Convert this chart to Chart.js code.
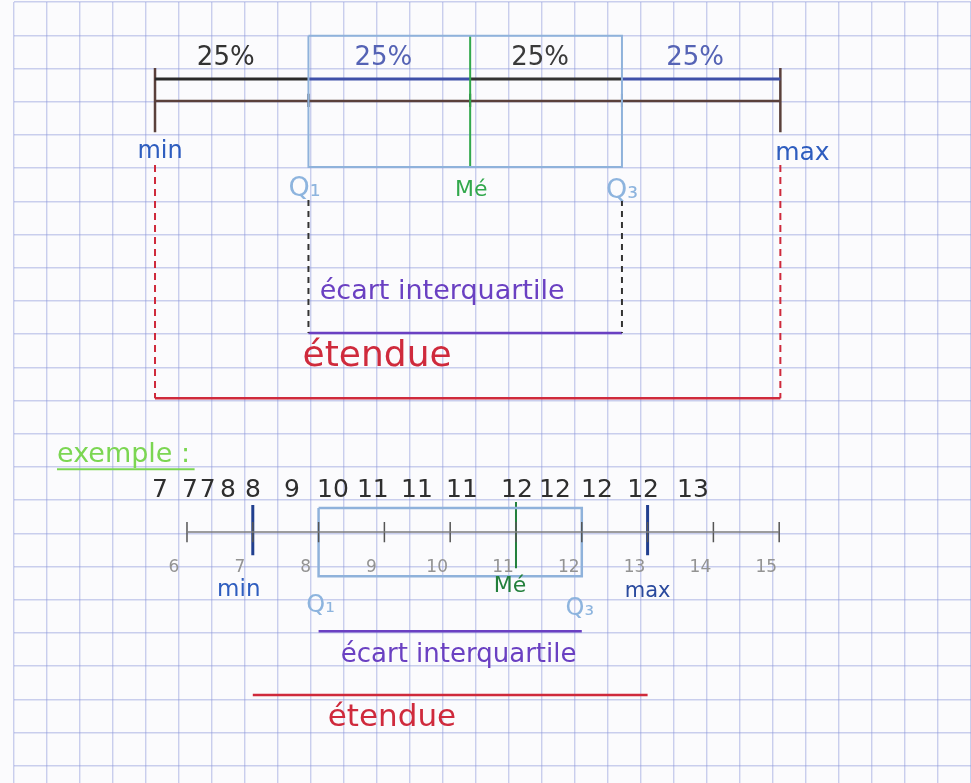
<!DOCTYPE html>
<html lang="fr">
<head>
<meta charset="utf-8">
<title>Diagramme en boîte</title>
<script src="https://cdn.jsdelivr.net/npm/chart.js@4.4.1/dist/chart.umd.min.js"></script>
<style>
  html, body { margin: 0; padding: 0; background: #fbfbfd; }
  #wrap { width: 971px; height: 783px; position: relative; }
</style>
</head>
<body>
<div id="wrap"><canvas id="boxplot"></canvas></div>
<script>
// --- schéma général (positions des repères sur la droite, en carreaux) ---
const schemaNames = ['min', 'Q₁', 'Mé', 'Q₃', 'max'];
const schemaPos = [4.0, 8.65, 13.55, 18.15, 22.95];
const schemaShares = ['25%', '25%', '25%', '25%'];

// --- exemple ---
const serie = [7, 7, 7, 8, 8, 9, 10, 11, 11, 11, 12, 12, 12, 12, 13];
const axisTicks = [6, 7, 8, 9, 10, 11, 12, 13, 14, 15];
const exNames = ['min', 'Q₁', 'Mé', 'Q₃', 'max'];
const exValues = [7, 8, 11, 12, 13];

// layout (carreaux / pixels), kept apart from the values
const serieX = [4.15, 5.06, 5.6, 6.21, 6.97, 8.15, 9.39, 10.6, 11.94, 13.3, 14.97, 16.12, 17.39, 18.79, 20.3];
const FONT = "'DejaVu Sans', 'Noto Sans', sans-serif";

(function() {
  const c = {
    ink: '#2a2a2a',
    blue: '#3f50a8',
    brown: '#5a403b',
    box: '#8fb2db',
    green: '#32a84c',
    darkGreen: '#23803c',
    purple: '#6a40c2',
    red: '#cf2a3c',
    gray: '#7d7d7d',
    navy: '#213f8f',
    label: '#2e5dbf',
    light: '#8db4de',
    lime: '#7bd652'
  };

  const datasets = [];
  function addLine(axis, pts, color, width, dash) {
    datasets.push({
      data: pts,
      xAxisID: axis,
      showLine: true,
      borderColor: color,
      borderWidth: width,
      borderDash: dash || [],
      pointRadius: 0,
      fill: false
    });
  }
  const h = (x0, x1, y) => [{ x: x0, y: y }, { x: x1, y: y }];
  const v = (x, y0, y1) => [{ x: x, y: y0 }, { x: x, y: y1 }];
  const [p0, p1, p2, p3, p4] = schemaPos;

  // top diagram
  addLine('x', [{ x: p1, y: 1.02 }, { x: p3, y: 1.02 }, { x: p3, y: 4.97 }, { x: p1, y: 4.97 }, { x: p1, y: 1.02 }], c.box, 2);
  addLine('x', v(p2, 1.02, 4.97), c.green, 2);
  const segColors = [c.ink, c.blue, '#333333', c.blue];
  for (let i = 0; i < 4; i++) {
    addLine('x', h(schemaPos[i], schemaPos[i + 1], 2.32), segColors[i], 3);
  }
  addLine('x', h(p0, p4, 2.98), c.brown, 2.5);
  addLine('x', v(p0, 1.99, 3.92), c.brown, 2.5);
  addLine('x', v(p4, 1.99, 3.92), c.brown, 2.5);
  [p1, p2, p3].forEach(p => addLine('x', v(p, 2.76, 3.16), '#222', 2));
  addLine('x', v(p1, 5.96, 9.97), '#333', 2, [6, 5]);
  addLine('x', v(p3, 5.96, 9.97), '#333', 2, [6, 5]);
  addLine('x', h(p1, p3, 9.97), c.purple, 2.5);
  addLine('x', v(p0, 4.91, 11.93), c.red, 2, [7, 5]);
  addLine('x', v(p4, 4.91, 11.93), c.red, 2, [7, 5]);
  addLine('x', h(p0, p4, 11.93), c.red, 2.5);

  // example
  addLine('x', h(1.03, 5.2, 14.07), c.lime, 2);
  addLine('xv', h(axisTicks[0], axisTicks[axisTicks.length - 1], 15.96), c.gray, 1.5);
  axisTicks.forEach(t => addLine('xv', v(t, 15.66, 16.27), '#555', 1.5));
  const [emin, eq1, eme, eq3, emax] = exValues;
  addLine('xv', [{ x: eq1, y: 15.24 }, { x: eq3, y: 15.24 }, { x: eq3, y: 17.29 }, { x: eq1, y: 17.29 }, { x: eq1, y: 15.24 }], c.box, 2.5);
  addLine('xv', v(emin, 15.15, 16.66), c.navy, 3);
  addLine('xv', v(emax, 15.15, 16.66), c.navy, 3);
  addLine('xv', v(eme, 15.06, 17.05), c.darkGreen, 2);
  addLine('xv', h(eq1, eq3, 18.95), c.purple, 2.5);
  addLine('xv', h(emin, emax, 20.87), c.red, 2.5);

  // texts
  const notes = [];
  const shareColors = ['#333', '#5563b5', '#3a3a3a', '#5563b5'];
  schemaShares.forEach((s, i) => notes.push({
    t: s, axis: 'x', x: (schemaPos[i] + schemaPos[i + 1]) / 2, dx: -6, y: 1.69, color: shareColors[i], size: 26
  }));
  const nameDx = [5, -4, 1, 0, 22];
  const nameY = [4.52, 5.62, 5.66, 5.7, 4.55];
  const nameColors = [c.label, c.light, c.green, c.light, c.label];
  const nameSize = [24, 27, 22, 27, 25];
  schemaNames.forEach((s, i) => notes.push({
    t: s, axis: 'x', x: schemaPos[i], dx: nameDx[i], y: nameY[i], color: nameColors[i], size: nameSize[i]
  }));
  notes.push({ t: 'écart interquartile', axis: 'x', x: 12.7, y: 8.73, color: c.purple, size: 27 });
  notes.push({ t: 'étendue', axis: 'x', x: 10.73, y: 10.69, color: c.red, size: 36 });

  notes.push({ t: 'exemple :', axis: 'x', x: 1.03, y: 13.64, color: c.lime, size: 27, align: 'left' });
  serie.forEach((s, i) => notes.push({ t: String(s), axis: 'x', x: serieX[i], y: 14.7, color: '#2e2e2e', size: 25 }));
  axisTicks.forEach(t => notes.push({ t: String(t), axis: 'xv', x: t, dx: -13, y: 17.02, color: '#939393', size: 17 }));
  const exDx = [-14, 2, -6, -2, 0];
  const exY = [17.71, 18.18, 17.6, 18.28, 17.74];
  const exColors = [c.label, c.light, c.darkGreen, c.light, '#2a4a9e'];
  const exSize = [23, 24, 22, 24, 21];
  exNames.forEach((s, i) => notes.push({
    t: s, axis: 'xv', x: exValues[i], dx: exDx[i], y: exY[i], color: exColors[i], size: exSize[i]
  }));
  notes.push({ t: 'écart interquartile', axis: 'x', x: 13.2, y: 19.67, color: c.purple, size: 26 });
  notes.push({ t: 'étendue', axis: 'x', x: 11.18, y: 21.57, color: c.red, size: 31 });

  const handText = {
    id: 'handText',
    afterDatasetsDraw(chart) {
      const { ctx, scales } = chart;
      ctx.save();
      ctx.textBaseline = 'middle';
      notes.forEach(n => {
        ctx.font = n.size + 'px ' + FONT;
        ctx.fillStyle = n.color;
        ctx.textAlign = n.align || 'center';
        const px = scales[n.axis].getPixelForValue(n.x) + (n.dx || 0);
        ctx.fillText(n.t, px, scales.y.getPixelForValue(n.y));
      });
      ctx.restore();
    }
  };

  const paperGrid = { color: 'rgba(140, 150, 218, 0.45)', lineWidth: 1.4, drawTicks: false };

  new Chart(document.getElementById('boxplot'), {
    type: 'scatter',
    data: { datasets: datasets },
    options: {
      responsive: true,
      maintainAspectRatio: false,
      animation: false,
      layout: { padding: { left: 14, top: 2, right: 0, bottom: 0 } },
      plugins: { legend: { display: false }, tooltip: { enabled: false } },
      scales: {
        x: {
          type: 'linear', min: -0.273, max: 28.727,
          grid: paperGrid, border: { display: false },
          ticks: { display: false, stepSize: 1, includeBounds: false },
          afterFit: s => { s.height = 0; }
        },
        xv: { type: 'linear', display: false, min: 3.371, max: 17.915 },
        y: {
          type: 'linear', reverse: true, min: 0, max: 23.52,
          grid: paperGrid, border: { display: false },
          ticks: { display: false, stepSize: 1, includeBounds: false },
          afterFit: s => { s.width = 0; }
        }
      }
    },
    plugins: [handText]
  });
})();
</script>
</body>
</html>
